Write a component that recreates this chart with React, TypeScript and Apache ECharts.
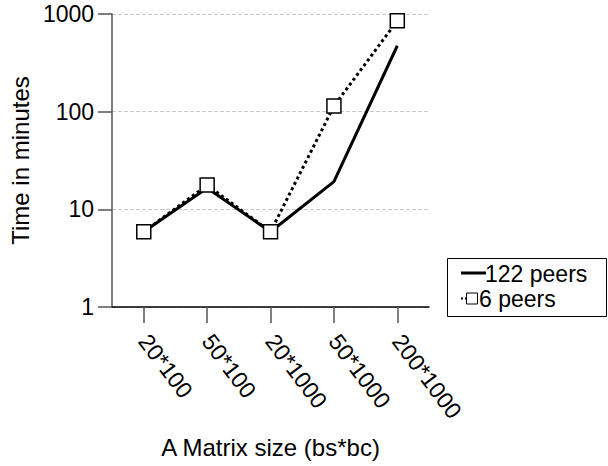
import React, { useEffect, useRef } from "react";
import * as echarts from "echarts";

const categories = ["20*100", "50*100", "20*1000", "50*1000", "200*1000"];
const peers122 = [5.9, 16.5, 5.9, 19.2, 473];
const peers6 = [5.9, 17.7, 5.9, 114, 853];
const seriesNames = ["122 peers", "6 peers"];
const yTicks = [1, 10, 100, 1000];

const FONT = "'Liberation Sans', Arial, sans-serif";
const FS = 23;
const NAME_FS = 24;

export default function App() {
  const ref = useRef<HTMLDivElement>(null);
  useEffect(() => {
    if (!ref.current) return;
    const chart = echarts.init(ref.current, undefined, { renderer: "svg" });
    chart.setOption({
      animation: false,
      backgroundColor: "#fff",
      textStyle: { fontFamily: FONT },
      grid: { left: 108, top: 14, right: 179, bottom: 159, containLabel: false },
      graphic: [
        {
          type: "rect",
          shape: { x: 447.5, y: 258.5, width: 159, height: 58 },
          style: { fill: "#fff", stroke: "#000", lineWidth: 1 },
          z: 10,
        },
        {
          type: "line",
          shape: { x1: 461, y1: 273, x2: 486, y2: 273 },
          style: { stroke: "#000", lineWidth: 3 },
          z: 11,
        },
        {
          type: "text",
          x: 485,
          y: 274,
          style: {
            text: seriesNames[0],
            fontSize: FS,
            fontFamily: FONT,
            fill: "#000",
            verticalAlign: "middle",
            align: "left",
          },
          z: 11,
        },
        {
          type: "line",
          shape: { x1: 461, y1: 298.5, x2: 467, y2: 298.5 },
          style: { stroke: "#000", lineWidth: 2, lineDash: [2, 2] },
          z: 11,
        },
        {
          type: "rect",
          shape: { x: 466.5, y: 293, width: 11, height: 11 },
          style: { fill: "#fff", stroke: "#000", lineWidth: 1 },
          z: 12,
        },
        {
          type: "text",
          x: 479,
          y: 299,
          style: {
            text: seriesNames[1],
            fontSize: FS,
            fontFamily: FONT,
            fill: "#000",
            verticalAlign: "middle",
            align: "left",
          },
          z: 11,
        },
      ],
      xAxis: {
        type: "category",
        data: categories,
        boundaryGap: true,
        name: "A Matrix size (bs*bc)",
        nameLocation: "middle",
        nameGap: 128,
        nameTextStyle: { fontSize: NAME_FS, color: "#000", fontFamily: FONT },
        axisLine: { lineStyle: { color: "#000", width: 1.5 } },
        axisTick: {
          show: true,
          alignWithLabel: true,
          length: 16,
          lineStyle: { color: "#555", width: 1.5 },
        },
        axisLabel: {
          rotate: -53,
          margin: 30,
          fontSize: FS,
          color: "#000",
          fontFamily: FONT,
        },
        splitLine: { show: false },
      },
      yAxis: {
        type: "log",
        logBase: 10,
        min: yTicks[0],
        max: yTicks[yTicks.length - 1],
        name: "Time in minutes",
        nameLocation: "middle",
        nameGap: 78,
        nameTextStyle: { fontSize: NAME_FS, color: "#000", fontFamily: FONT },
        axisLine: { show: true, lineStyle: { color: "#555", width: 1.5 } },
        axisTick: { show: true, length: 14, lineStyle: { color: "#555", width: 1.5 } },
        axisLabel: {
          margin: 18,
          fontSize: FS,
          color: "#000",
          fontFamily: FONT,
          formatter: (v: number) => String(Math.round(v)),
        },
        splitLine: {
          show: true,
          lineStyle: { color: "#c8c8c8", type: "dashed", width: 1 },
        },
      },
      series: [
        {
          name: seriesNames[0],
          type: "line",
          data: peers122,
          symbol: "none",
          lineStyle: { color: "#000", width: 3, type: "solid" },
          itemStyle: { color: "#000" },
          z: 2,
        },
        {
          name: seriesNames[1],
          type: "line",
          data: peers6,
          symbol: "rect",
          symbolSize: 14,
          lineStyle: { color: "#000", width: 3, type: "dotted" },
          itemStyle: { color: "#fff", borderColor: "#000", borderWidth: 1.5 },
          z: 3,
        },
      ],
    });
    return () => chart.dispose();
  }, []);
  return <div ref={ref} style={{ width: 608, height: 466, position: "absolute", left: 0, top: 0 }} />;
}
